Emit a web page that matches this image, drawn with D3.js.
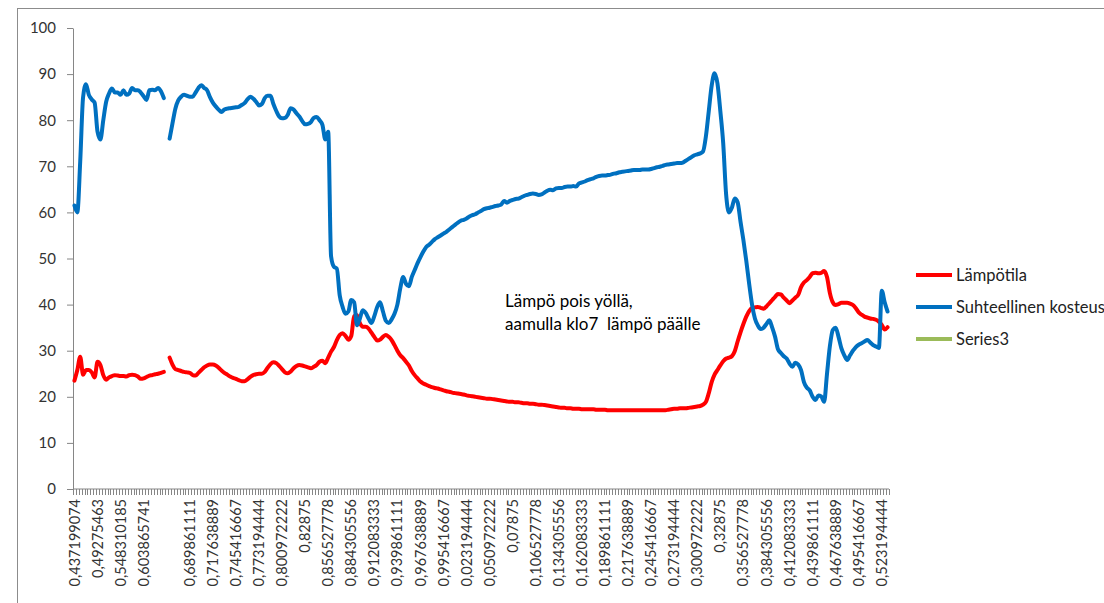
<!DOCTYPE html>
<html>
<meta charset="utf-8">
<style>
body{
	margin:0;
	background:#fff;
}
svg text{
	font-family:Lato, "Open Sans", sans-serif;
	fill:#333;
}
.axis path, .axis line{
	stroke:#868686;
}
</style>
<body>
<svg width="1104" height="603"></svg>
<script src="https://d3js.org/d3.v7.min.js"></script>
<script>

// x categories: every 8th category carries a label (one blank row at index 32)
var labelEvery = 8;
var timeLabels = ["0,437199074","0,49275463","0,548310185","0,603865741","",
  "0,689861111","0,717638889","0,745416667","0,773194444","0,800972222","0,82875",
  "0,856527778","0,884305556","0,912083333","0,939861111","0,967638889","0,995416667",
  "0,023194444","0,050972222","0,07875","0,106527778","0,134305556","0,162083333",
  "0,189861111","0,217638889","0,245416667","0,273194444","0,300972222","0,32875",
  "0,356527778","0,384305556","0,412083333","0,439861111","0,467638889","0,495416667",
  "0,523194444"];

var yTicks = [0,10,20,30,40,50,60,70,80,90,100];

// Suhteellinen kosteus (relative humidity)
var kosteus = [
  61.5,60,71,85,87.8,85.5,84.5,83.8,77.5,75.8,
  80,84,85.8,86.9,86,86,85.5,86.5,85.5,85.8,
  87,86.5,86.5,86,85.2,84.4,86.5,86.6,86.5,87,
  86.3,84.8,null,76,79.3,82.5,84.3,85.1,85.5,85.3,
  85.1,85.1,86,87,87.6,87,86.5,85,83.8,83,
  82.3,81.8,82.3,82.5,82.6,82.7,82.8,82.9,83.3,83.7,
  84.5,85.1,84.7,84,83.2,83.5,84.8,85.3,85.3,83.5,
  82,80.8,80.4,80.5,81.2,82.6,82.3,81.5,80.8,79.8,
  79.1,79.2,79.6,80.5,80.7,80,79,75.8,77.5,50.5,
  48.2,47.8,42,39.5,38,38.5,41,40.5,35.5,37,
  38.8,38.2,37,36,37.5,39.5,40.5,38.5,36.5,36,
  36.8,38,40,43.5,46,44.5,44,46,47.5,49,
  50.3,51.5,52.5,53,53.6,54.2,54.6,55,55.4,55.8,
  56.3,56.8,57.3,57.8,58.2,58.4,58.7,59.1,59.4,59.6,
  60,60.3,60.7,60.9,61,61.2,61.4,61.5,61.7,62.5,
  62.1,62.5,62.7,62.9,63,63.3,63.6,63.8,64,64.1,
  64,63.8,63.9,64.3,64.7,64.9,64.8,65.2,65.3,65.3,
  65.5,65.6,65.6,65.7,65.6,66.3,66.5,66.7,67,67.2,
  67.4,67.7,67.9,68,68,68.1,68.2,68.4,68.5,68.7,
  68.8,68.9,69,69.1,69.2,69.2,69.2,69.3,69.3,69.3,
  69.4,69.6,69.8,69.9,70.1,70.3,70.4,70.5,70.6,70.7,
  70.7,70.8,71.2,71.6,72,72.4,72.6,72.8,73.2,76.5,
  82,87.5,90.2,88,82,75,64,60,61,63,
  62.2,58,54,49.5,44.5,40,37,35.5,34.7,35,
  35.8,36.6,35,33,30.3,29.5,28.8,28.3,27.2,26.5,
  27.4,27,25.8,23.2,22,21.4,20,19.3,20.3,20.1,
  18.9,25,31,34.5,35,33,30.5,29,28,29,
  30,30.8,31.3,31.6,32,32.3,31.8,31.2,30.9,30.6,
  43,40.5,38.5];

// Lämpötila (temperature)
var lampotila = [
  23.5,25.8,28.7,24.8,25.8,25.8,25.3,24.2,27.6,26.9,
  24.7,23.7,24.2,24.5,24.7,24.6,24.5,24.5,24.4,24.7,
  24.8,24.7,24.4,23.9,24,24.3,24.6,24.7,24.9,25,
  25.2,25.4,null,28.5,27,26,25.8,25.6,25.4,25.3,
  25.2,24.7,24.6,25.2,25.8,26.4,26.8,27,27,26.8,
  26.3,25.7,25.2,24.8,24.4,24.1,23.9,23.6,23.4,23.4,
  23.8,24.3,24.7,24.9,25,25,25.4,26.3,27.1,27.5,
  27.3,26.7,26,25.3,25.1,25.5,26.2,26.7,26.9,26.8,
  26.6,26.4,26.2,26.5,26.9,27.6,27.8,27.3,28.5,29.8,
  30.8,32.3,33.4,33.8,33.2,32.4,33.2,37.5,37.7,36,
  35.2,35.2,34.8,33.9,33,32.2,32.4,33,33.4,33,
  32.3,31.2,30,29,28.4,27.6,26.8,25.6,24.7,24,
  23.3,22.9,22.6,22.3,22.1,21.9,21.8,21.6,21.4,21.2,
  21.1,20.9,20.8,20.7,20.6,20.5,20.3,20.2,20.1,20,
  19.9,19.8,19.7,19.6,19.6,19.5,19.4,19.3,19.2,19.1,
  19,18.9,18.9,18.8,18.8,18.7,18.6,18.6,18.5,18.5,
  18.4,18.3,18.3,18.2,18.1,18,17.9,17.8,17.7,17.6,
  17.6,17.5,17.5,17.4,17.4,17.4,17.3,17.3,17.3,17.3,
  17.3,17.2,17.2,17.2,17.2,17.1,17.1,17.1,17.1,17.1,
  17.1,17.1,17.1,17.1,17.1,17.1,17.1,17.1,17.1,17.1,
  17.1,17.1,17.1,17.1,17.1,17.1,17.2,17.3,17.4,17.4,
  17.5,17.5,17.5,17.6,17.7,17.8,17.9,18,18.3,18.9,
  20.8,23.2,24.8,25.8,26.8,27.7,28.3,28.5,28.8,29.9,
  32,34,35.8,37.4,38.6,39.3,39.4,39.5,39.3,39.1,
  39.6,40.3,41,41.7,42.3,42.2,41.5,40.9,40.3,40.9,
  41.5,42.1,43.8,44.8,45.3,46,46.8,46.9,46.8,46.9,
  47.3,46,42.5,40.5,39.9,40.1,40.4,40.4,40.4,40.2,
  39.9,39.2,38.3,37.8,37.4,37.2,37,36.9,36.7,36.3,
  35.6,34.6,35.1];

var seriesNames = ["Lämpötila","Suhteellinen kosteus","Series3"];
var seriesColors = ["#ff0000","#0070c0","#9bbb59"];
var note = ["Lämpö pois yöllä,","aamulla klo7  lämpö päälle"];

var svg = d3.select("svg");

// chart frame
svg.append("rect")
    .attr("x",17.5).attr("y",8.5)
    .attr("width",1200).attr("height",700)
    .attr("fill","none").attr("stroke","#8c8c8c");

var n = lampotila.length;
var x = d3.scaleBand().domain(d3.range(n)).range([73,889]);
var y = d3.scaleLinear().domain([0,100]).range([489,28]);
var cx = function(i){ return x(i) + x.bandwidth()/2; };

// y axis
var yAxis = svg.append("g")
    .attr("class","axis")
    .attr("transform","translate(73,0)")
    .call(d3.axisLeft(y).tickValues(yTicks).tickSize(6).tickPadding(11).tickSizeOuter(0));
yAxis.selectAll("text").style("font-size","15px");

// x axis: line, a tick at every category boundary, labels every 8th
var xa = svg.append("g").attr("class","axis");
xa.append("line")
    .attr("x1",73).attr("x2",889).attr("y1",y(0)).attr("y2",y(0));
xa.selectAll(".tk")
    .data(d3.range(n+1))
  .enter().append("line")
    .attr("class","tk")
    .attr("x1",function(i){ return Math.round(x(0) + i*x.step()) + 0.5; })
    .attr("x2",function(i){ return Math.round(x(0) + i*x.step()) + 0.5; })
    .attr("y1",y(0)).attr("y2",y(0)+6);
xa.selectAll("text")
    .data(timeLabels)
  .enter().append("text")
    .attr("transform",function(d,k){ return "translate(" + cx(k*labelEvery) + "," + (y(0)+10) + ") rotate(-90)"; })
    .attr("dy","0.35em")
    .attr("text-anchor","end")
    .style("font-size","14.5px")
    .text(function(d){ return d; });

// lines
var line = d3.line()
    .defined(function(d){ return d != null; })
    .x(function(d,i){ return cx(i); })
    .y(function(d){ return y(d); })
    .curve(d3.curveMonotoneX);

[lampotila, kosteus].forEach(function(s,k){
  svg.append("path")
      .datum(s)
      .attr("d",line)
      .attr("fill","none")
      .attr("stroke",seriesColors[k])
      .attr("stroke-width",4)
      .attr("stroke-linejoin","round")
      .attr("stroke-linecap","round");
});

// annotation
svg.append("g").selectAll("text")
    .data(note)
  .enter().append("text")
    .attr("x",505)
    .attr("y",function(d,i){ return 307 + i*23; })
    .style("font-size","17px")
    .style("fill","#000")
    .style("white-space","pre")
    .attr("xml:space","preserve")
    .text(function(d){ return d; });

// legend
var lg = svg.append("g").selectAll("g")
    .data(seriesNames)
  .enter().append("g")
    .attr("transform",function(d,i){ return "translate(916," + (275 + i*32) + ")"; });
lg.append("line")
    .attr("x1",0).attr("x2",36)
    .attr("stroke",function(d,i){ return seriesColors[i]; })
    .attr("stroke-width",4);
lg.append("text")
    .attr("x",40)
    .attr("dy","0.35em")
    .style("font-size","16.5px")
    .style("fill","#222")
    .text(function(d){ return d; });

</script>
</body>
</html>
